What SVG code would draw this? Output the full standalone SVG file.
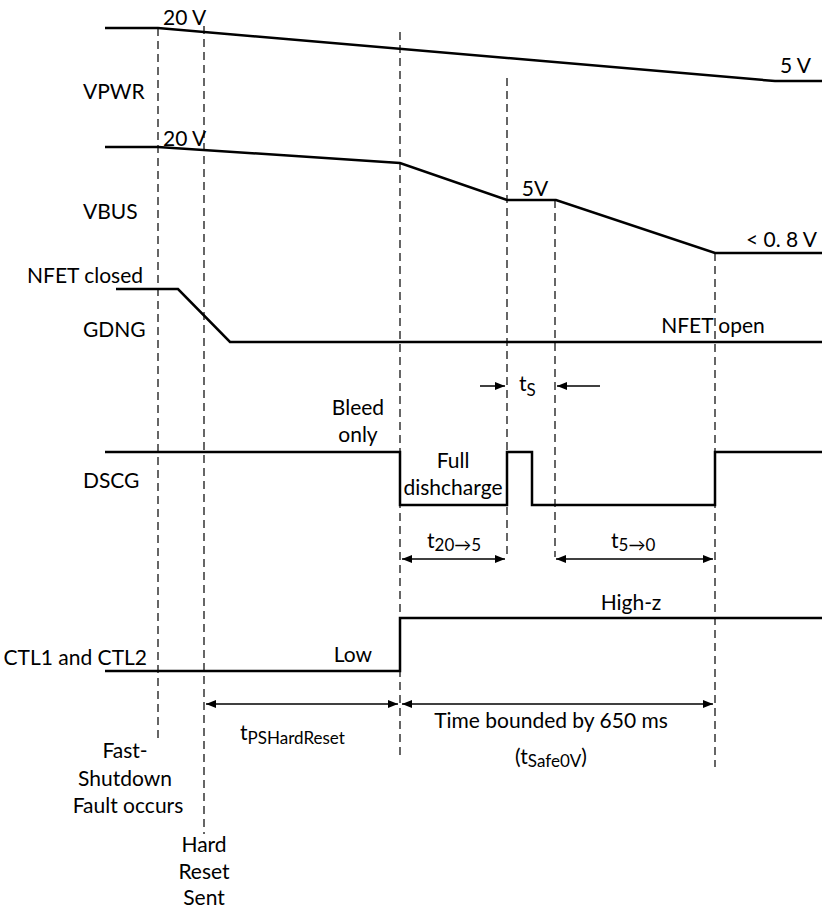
<svg xmlns="http://www.w3.org/2000/svg" width="822" height="911" viewBox="0 0 822 911">
<defs>
<marker id="ah" viewBox="0 0 10 8" refX="10" refY="4" markerWidth="10" markerHeight="8" markerUnits="userSpaceOnUse" orient="auto-start-reverse">
<path d="M0,0 L10,4 L0,8 Z" fill="#000"/>
</marker>
</defs>
<style>
text{font-family:Lato,"Liberation Sans",sans-serif;font-size:21px;fill:#000}
.sub{font-size:17px}
.sig{fill:none;stroke:#000;stroke-width:2.5;stroke-linejoin:miter}
.dash{fill:none;stroke:#000;stroke-width:1.2;stroke-dasharray:8 5}
.arr{fill:none;stroke:#000;stroke-width:1.5}
.m{text-anchor:middle}
.e{text-anchor:end}
</style>
<rect width="822" height="911" fill="#fff"/>
<g id="connectors">
<line class="dash" x1="158" y1="28" x2="158" y2="740"/>
<line class="dash" x1="204" y1="26" x2="204" y2="834"/>
<line class="dash" x1="400" y1="32" x2="400" y2="760"/>
<line class="dash" x1="507" y1="78" x2="507" y2="555"/>
<line class="dash" x1="555" y1="200" x2="555" y2="557"/>
<line class="dash" x1="715" y1="253" x2="715" y2="767"/>
<line class="arr" x1="480" y1="386" x2="505" y2="386" marker-end="url(#ah)"/>
<line class="arr" x1="600" y1="386" x2="557" y2="386" marker-end="url(#ah)"/>
<line class="arr" x1="402" y1="559" x2="505" y2="559" marker-start="url(#ah)" marker-end="url(#ah)"/>
<line class="arr" x1="556" y1="559" x2="713" y2="559" marker-start="url(#ah)" marker-end="url(#ah)"/>
<line class="arr" x1="206" y1="704" x2="398" y2="704" marker-start="url(#ah)" marker-end="url(#ah)"/>
<line class="arr" x1="402" y1="704" x2="713" y2="704" marker-start="url(#ah)" marker-end="url(#ah)"/>
</g>
<g id="vpwr">
<text x="83" y="99">VPWR</text>
<polyline class="sig" points="105,28 158,28 775,81 822,81"/>
<text x="163" y="25">20 V</text>
<text class="e" x="811" y="73">5 V</text>
</g>
<g id="vbus">
<text x="83" y="219">VBUS</text>
<polyline class="sig" points="105,147 158,147 400,163 507,200 556,200 715,253 822,253"/>
<text x="163" y="146">20 V</text>
<text class="m" x="535" y="196">5V</text>
<text class="e" x="817" y="247">&lt; 0. 8 V</text>
</g>
<g id="gdng">
<text class="e" x="143" y="283">NFET closed</text>
<text x="83" y="337">GDNG</text>
<polyline class="sig" points="116,289 178,289 230,342 822,342"/>
<text class="m" x="713" y="333">NFET open</text>
</g>
<g id="ts">
<text x="519" y="391">t<tspan class="sub" dy="5">S</tspan></text>
</g>
<g id="dscg">
<text x="83" y="488">DSCG</text>
<polyline class="sig" points="105,452 400,452 400,505 507,505 507,452 532,452 532,505 715,505 715,452 822,452"/>
<text class="m" x="358" y="415">Bleed</text>
<text class="m" x="358" y="442">only</text>
<text class="m" x="453" y="468">Full</text>
<text class="m" x="453" y="495">dishcharge</text>
<text x="427" y="548">t<tspan class="sub" dy="3">20→5</tspan></text>
<text x="611" y="548">t<tspan class="sub" dy="3">5→0</tspan></text>
</g>
<g id="ctl">
<text class="e" x="147" y="665">CTL1 and CTL2</text>
<polyline class="sig" points="105,671 400,671 400,618 822,618"/>
<text class="e" x="372" y="662">Low</text>
<text class="m" x="631" y="610">High-z</text>
</g>
<g id="timing">
<text x="240" y="740">t<tspan class="sub" dy="4">PSHardReset</tspan></text>
<text class="m" x="551" y="728">Time bounded by 650 ms</text>
<text class="m" x="551" y="764">(t<tspan class="sub" dy="3">Safe0V</tspan><tspan dy="-3">)</tspan></text>
</g>
<g id="events">
<text class="m" x="125" y="758">Fast-</text>
<text class="m" x="125" y="786">Shutdown</text>
<text class="m" x="128" y="813">Fault occurs</text>
<text class="m" x="204" y="852">Hard</text>
<text class="m" x="204" y="879">Reset</text>
<text class="m" x="204" y="905">Sent</text>
</g>
</svg>
